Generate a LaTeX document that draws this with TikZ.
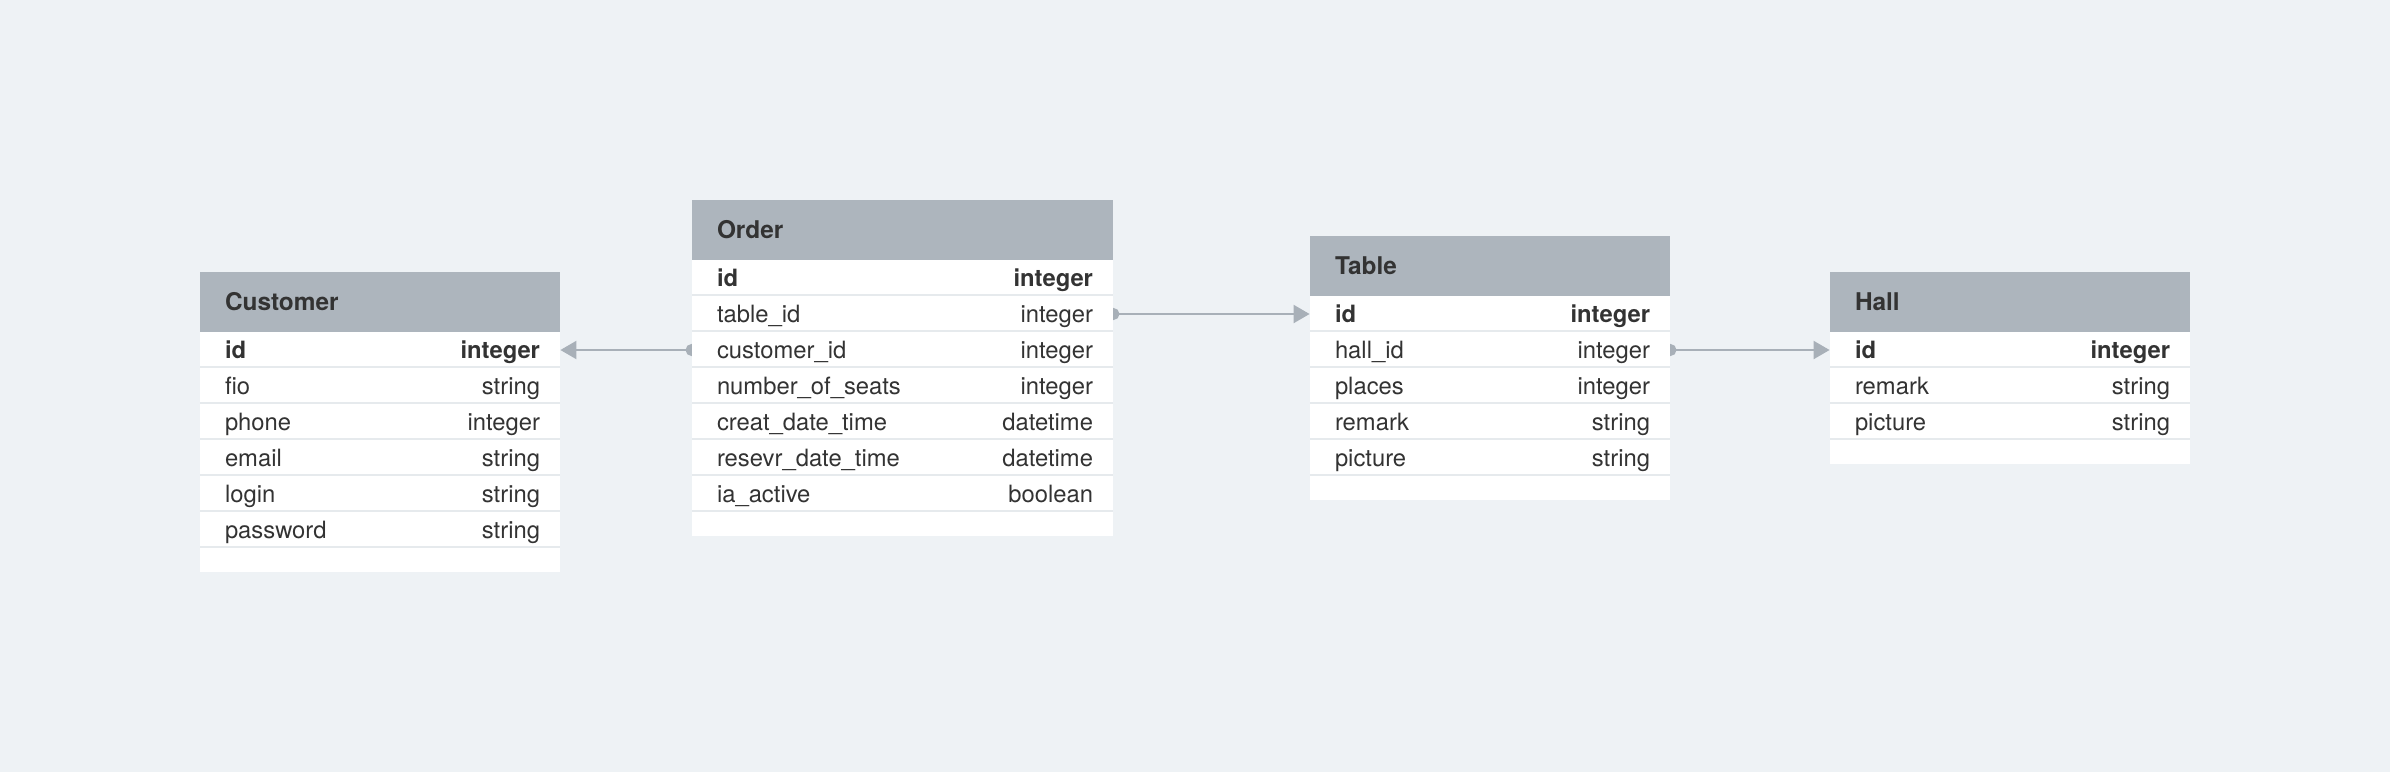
\documentclass[tikz,border=0pt]{standalone}
\usepackage{fontspec}
\setmainfont{TeX Gyre Heros}
\usetikzlibrary{arrows.meta,graphs}
\definecolor{bgc}{HTML}{EEF2F5}
\definecolor{headc}{HTML}{ADB5BD}
\definecolor{linkc}{HTML}{A8B0B8}
\definecolor{sepc}{HTML}{E6EAED}
\definecolor{textc}{HTML}{333333}
\pgfdeclarelayer{bg}
\pgfdeclarelayer{links}
\pgfsetlayers{bg,links,main}

\begin{document}
\begin{tikzpicture}[x=0.5pt,y=-0.5pt,
    cell/.style={rectangle, fill=white, text=textc, font=\fontsize{11.9}{14}\selectfont,
      text width=157.5pt, align=left, minimum width=180pt, inner xsep=11.25pt, inner ysep=0pt,
      text height=11.5pt, text depth=3pt,
      execute at begin node=\hspace*{1.25pt}, execute at end node=\hspace*{-1.25pt}},
    head/.style={cell, fill=headc, minimum height=30pt, font=\fontsize{12.2}{14}\selectfont\bfseries},
    row/.style={cell, minimum height=18pt, path picture={\draw[sepc, line width=1pt]
      ([yshift=0.5pt]path picture bounding box.south west) -- ([yshift=0.5pt]path picture bounding box.south east);}},
    pad/.style={cell, minimum height=12pt, text height=0pt, text depth=0pt},
    wide/.style={text width=188pt, minimum width=210.5pt},
    link/.style={draw=linkc, line width=1pt, {Circle[length=6pt]}-{Triangle[length=8pt,width=9pt]}, shorten <=-3pt}]
  \begin{pgfonlayer}{bg}
    \fill[bgc] (0,0) rectangle (2390,772);
  \end{pgfonlayer}
    \node[head] (c) at (380,302) {Customer};
    \node[row] (c1) at (380,350) {\textbf{id}\hfill\textbf{integer}};
    \node[row] (c2) at (380,386) {fio\hfill string};
    \node[row] (c3) at (380,422) {phone\hfill integer};
    \node[row] (c4) at (380,458) {email\hfill string};
    \node[row] (c5) at (380,494) {login\hfill string};
    \node[row] (c6) at (380,530) {password\hfill string};
    \node[pad] (c7) at (380,560) {};

    \node[head, wide] (o) at (902.5,230) {Order};
    \node[row, wide] (o1) at (902.5,278) {\textbf{id}\hfill\textbf{integer}};
    \node[row, wide] (o2) at (902.5,314) {table\_id\hfill integer};
    \node[row, wide] (o3) at (902.5,350) {customer\_id\hfill integer};
    \node[row, wide] (o4) at (902.5,386) {number\_of\_seats\hfill integer};
    \node[row, wide] (o5) at (902.5,422) {creat\_date\_time\hfill datetime};
    \node[row, wide] (o6) at (902.5,458) {resevr\_date\_time\hfill datetime};
    \node[row, wide] (o7) at (902.5,494) {ia\_active\hfill boolean};
    \node[pad, wide] (o8) at (902.5,524) {};

    \node[head] (t) at (1490,266) {Table};
    \node[row] (t1) at (1490,314) {\textbf{id}\hfill\textbf{integer}};
    \node[row] (t2) at (1490,350) {hall\_id\hfill integer};
    \node[row] (t3) at (1490,386) {places\hfill integer};
    \node[row] (t4) at (1490,422) {remark\hfill string};
    \node[row] (t5) at (1490,458) {picture\hfill string};
    \node[pad] (t6) at (1490,488) {};

    \node[head] (h) at (2010,302) {Hall};
    \node[row] (h1) at (2010,350) {\textbf{id}\hfill\textbf{integer}};
    \node[row] (h2) at (2010,386) {remark\hfill string};
    \node[row] (h3) at (2010,422) {picture\hfill string};
    \node[pad] (h4) at (2010,452) {};
  \begin{pgfonlayer}{links}
  \graph[use existing nodes, edges={link}] {
    o3 -- c1;
    o2 -- t1;
    t2 -- h1;
  };
  \end{pgfonlayer}
\end{tikzpicture}
\end{document}
